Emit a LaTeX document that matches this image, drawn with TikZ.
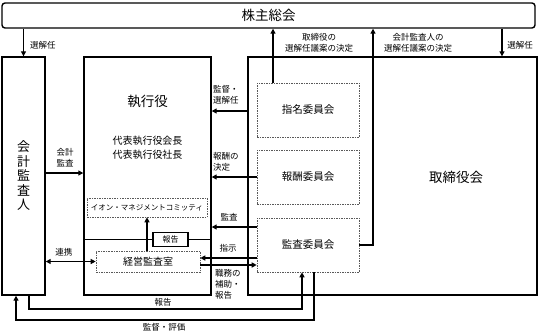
\documentclass[tikz,border=0pt]{standalone}
\usepackage{fontspec}
\setmainfont{Noto Sans CJK JP}
\usetikzlibrary{arrows.meta}
\begin{document}
\begin{tikzpicture}[x=1pt,y=-1pt,
  box/.style={draw, line width=1.4pt, inner sep=0pt},
  dbox/.style={draw=black!65, dash pattern=on 1.5pt off 1pt, line width=0.6pt, inner sep=0pt},
  arr/.style={line width=1.2pt, -{Triangle[length=5pt,width=5pt]}},
  darr/.style={line width=1.2pt, {Triangle[length=5pt,width=5pt]}-{Triangle[length=5pt,width=5pt]}},
  ln/.style={line width=1.2pt},
  lbl/.style={font=\fontsize{8.5}{10.5}\selectfont, inner sep=0pt, align=center},
  lbll/.style={font=\fontsize{8.5}{11}\selectfont, inner sep=0pt, align=left, anchor=west}]
\useasboundingbox (0,0) rectangle (539,333);
% main boxes
\node[box, rounded corners=3pt, minimum width=533pt, minimum height=25pt,
  font=\fontsize{13.5}{15}\selectfont] (soukai) at (268.5,15.5) {株主総会};
\node[box, minimum width=43pt, minimum height=238pt] (kaikei) at (23.5,176) {};
\node[font=\fontsize{13}{14.5}\selectfont, align=center, inner sep=0pt] (kaikeitxt) at (23.5,176) {会\\計\\監\\査\\人};
\node[box, minimum width=127pt, minimum height=238pt] (shikko) at (147.5,176) {};
\node[box, minimum width=289pt, minimum height=238pt] (tori) at (392.5,176) {};
\node[font=\fontsize{13.5}{15}\selectfont, inner sep=0pt] (toritxt) at (456,177) {取締役会};
\node[font=\fontsize{13.5}{15}\selectfont, inner sep=0pt] (shikkotxt) at (147.5,101) {執行役};
\node[font=\fontsize{10}{13.5}\selectfont, inner sep=0pt, align=center] (daihyo) at (147.5,148) {代表執行役会長\\代表執行役社長};
% committees
\node[dbox, minimum width=102pt, minimum height=54pt, font=\fontsize{10.5}{12}\selectfont] (shimei) at (308,110) {指名委員会};
\node[dbox, minimum width=102pt, minimum height=54pt, font=\fontsize{10.5}{12}\selectfont] (hoshu) at (308,177) {報酬委員会};
\node[dbox, minimum width=102pt, minimum height=54pt, font=\fontsize{10.5}{12}\selectfont] (kansa) at (308,245) {監査委員会};
% inside shikko
\node[dbox, minimum width=120pt, minimum height=19pt, font=\fontsize{7.5}{9}\selectfont] (aeon) at (147,207.5) {イオン・マネジメントコミッティ};
\node[box, line width=1.2pt, minimum width=35pt, minimum height=14pt, font=\fontsize{8}{9}\selectfont] (hbox) at (170.5,239.5) {報告};
\node[dbox, minimum width=104pt, minimum height=21pt, font=\fontsize{10}{12}\selectfont] (keiei) at (148,261.5) {経営監査室};
% coordinates
\coordinate (c273) at (273,0);
\coordinate (c373) at (373,0);
\coordinate (c502) at (502,0);
\coordinate (y111) at (0,111);
\coordinate (y173) at (0,173);
\coordinate (y227) at (0,227);
\coordinate (y258) at (0,258);
\coordinate (y265) at (0,265);
\coordinate (b1) at (29,309);
\coordinate (b2) at (302,309);
\coordinate (e1) at (314,320);
\coordinate (e2) at (16,320);
% connectors
\draw[arr] (soukai.south -| kaikei.north) -- (kaikei.north);
\draw[arr] (soukai.south -| c502) -- (tori.north -| c502);
\draw[arr] (shimei.north -| c273) -- (soukai.south -| c273);
\draw[arr] (kansa.east) -| (soukai.south -| c373);
\draw[arr] (tori.west |- y111) -- (shikko.east |- y111);
\draw[arr] (hoshu.west) -- (shikko.east |- hoshu.west);
\draw[arr] (kansa.west |- y227) -- (shikko.east |- y227);
\draw[arr] (kansa.west |- y258) -- (keiei.east |- y258);
\draw[arr] (keiei.east |- y265) -- (kansa.west |- y265);
\draw[arr] (kaikei.east |- y173) -- (shikko.west |- y173);
\draw[darr] (kaikei.east |- keiei.west) -- (keiei.west);
\draw[arr] (keiei.north -| aeon.south) -- (aeon.south);
\draw[ln] (shikko.west |- hbox.west) -- (hbox.west);
\draw[ln] (hbox.east) -- (shikko.east |- hbox.east);
\draw[arr] (kaikei.south -| b1) -- (b1) -- (b2) -- (kansa.south -| b2);
\draw[arr] (kansa.south -| e1) -- (e1) -- (e2) -- (kaikei.south -| e2);
% labels
\node[lbl] (l1) at (43,45) {選解任};
\node[lbl] (l2) at (520,45) {選解任};
\node[lbl] (l3) at (319,43) {取締役の\\選解任議案の決定};
\node[lbl] (l4) at (418,43) {会計監査人の\\選解任議案の決定};
\node[lbll] (l5) at (213,94.5) {監督・\\選解任};
\node[lbll] (l6) at (213,161.5) {報酬の\\決定};
\node[lbl] (l7) at (229,217) {監査};
\node[lbl] (l8) at (228,248) {指示};
\node[lbll] (l9) at (215,284.5) {職務の\\補助・\\報告};
\node[lbl] (l10) at (64,252) {連携};
\node[lbl] (l11) at (65,157.5) {会計\\監査};
\node[lbl] (l12) at (163,302.5) {報告};
\node[lbl] (l13) at (164,327) {監督・評価};
\end{tikzpicture}
\end{document}
